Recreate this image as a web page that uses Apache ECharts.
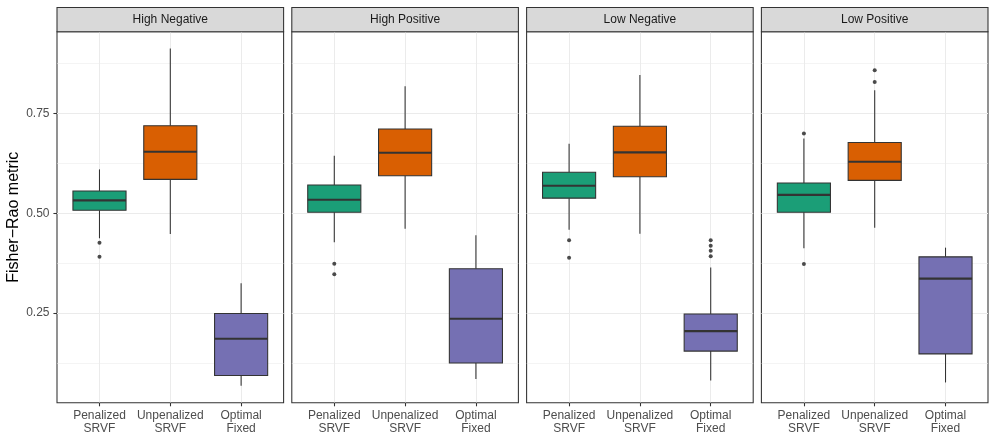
<!DOCTYPE html>
<html>
<head>
<meta charset="utf-8">
<script src="https://cdn.jsdelivr.net/npm/echarts@6/dist/echarts.min.js"></script>
<style>html,body{margin:0;padding:0;background:#fff}#c{width:997px;height:443px}</style>
</head>
<body>
<div id="c"></div>
<script>
// ---------- data ----------
const facets = ['High Negative', 'High Positive', 'Low Negative', 'Low Positive'];
const methods = ['Penalized\nSRVF', 'Unpenalized\nSRVF', 'Optimal\nFixed'];
const fills = ['#1B9E77', '#D95F02', '#7570B3'];
const yTicks = [0.25, 0.5, 0.75];
const yMinorTicks = [0.125, 0.375, 0.625, 0.875];
const yRange = [0.0258, 0.9547];
const yTitle = 'Fisher\u2212Rao metric';

// each row: [lower whisker, Q1, median, Q3, upper whisker]
const boxHighNegative = [
  [0.4375, 0.5075, 0.5325, 0.556, 0.610],
  [0.448, 0.585, 0.654, 0.719, 0.9125],
  [0.068, 0.094, 0.186, 0.249, 0.325]
];
const boxHighPositive = [
  [0.4275, 0.5025, 0.534, 0.571, 0.644],
  [0.4615, 0.594, 0.6515, 0.711, 0.818],
  [0.085, 0.125, 0.236, 0.361, 0.445]
];
const boxLowNegative = [
  [0.459, 0.538, 0.569, 0.603, 0.674],
  [0.449, 0.5915, 0.6525, 0.718, 0.846],
  [0.0815, 0.155, 0.205, 0.248, 0.364]
];
const boxLowPositive = [
  [0.4125, 0.5025, 0.546, 0.576, 0.6875],
  [0.464, 0.5825, 0.629, 0.6775, 0.808],
  [0.0765, 0.148, 0.3365, 0.391, 0.414]
];
const outHighNegative = [[0.426, 0.3915], [], []];
const outHighPositive = [[0.374, 0.3475], [], []];
const outLowNegative = [[0.4325, 0.389], [], [0.4325, 0.419, 0.406, 0.3925]];
const outLowPositive = [[0.700, 0.373], [0.858, 0.829], []];

const boxStats = [boxHighNegative, boxHighPositive, boxLowNegative, boxLowPositive];
const outliers = [outHighNegative, outHighPositive, outLowNegative, outLowPositive];

// ---------- layout ----------
const FONT = '"Liberation Sans", Arial, Helvetica, sans-serif';
const P = { left: 57, top: 31.7, width: 226.6, height: 371, step: 234.8, stripTop: 7.5 };
const LW = 1.07;

const grids = [], xAxes = [], yAxes = [], series = [], graphics = [];

facets.forEach((name, k) => {
  const left = P.left + k * P.step;
  grids.push({
    left: left, top: P.top, width: P.width, height: P.height,
    show: true, borderColor: '#333333', borderWidth: LW, backgroundColor: 'transparent', containLabel: false
  });
  xAxes.push({
    gridIndex: k, type: 'value', min: 0.4, max: 3.6,
    axisLine: { show: false },
    axisTick: { show: true, customValues: [1, 2, 3], length: 3.6, lineStyle: { color: '#333333', width: LW } },
    axisLabel: {
      customValues: [1, 2, 3], formatter: v => methods[Math.round(v) - 1],
      color: '#4D4D4D', fontSize: 12, fontFamily: FONT, lineHeight: 13.3, margin: 6
    },
    splitLine: { show: true, lineStyle: { color: '#EBEBEB', width: LW } }
  });
  yAxes.push({
    gridIndex: k, type: 'value', min: yRange[0], max: yRange[1],
    axisLine: { show: false },
    axisTick: { show: k === 0, customValues: yTicks, length: 3.6, lineStyle: { color: '#333333', width: LW } },
    axisLabel: {
      show: k === 0, customValues: yTicks, formatter: v => v.toFixed(2),
      color: '#4D4D4D', fontSize: 12, fontFamily: FONT, margin: 7.5
    },
    splitLine: { show: true, lineStyle: { color: '#EBEBEB', width: LW } },
    name: k === 0 ? yTitle : '', nameLocation: 'middle', nameGap: 35,
    nameTextStyle: { color: '#000000', fontSize: 16, fontFamily: FONT }
  });
  yAxes.push({
    gridIndex: k, type: 'value', min: yRange[0], max: yRange[1], position: 'left',
    axisLine: { show: false },
    axisTick: { show: false, customValues: yMinorTicks },
    axisLabel: { show: false, customValues: yMinorTicks },
    splitLine: { show: true, lineStyle: { color: '#EBEBEB', width: 0.53 } }
  });

  series.push({
    type: 'custom', xAxisIndex: k, yAxisIndex: 2 * k, z: 3,
    encode: { x: 0, y: [1, 2, 3, 4, 5] },
    data: boxStats[k].map((s, i) => [i + 1].concat(s)),
    renderItem: function (params, api) {
      const x = api.value(0);
      const lo = api.coord([x, api.value(1)]);
      const q1 = api.coord([x, api.value(2)]);
      const md = api.coord([x, api.value(3)]);
      const q3 = api.coord([x, api.value(4)]);
      const hi = api.coord([x, api.value(5)]);
      const w = api.size([0.75, 0])[0];
      const cx = q1[0];
      const ls = { stroke: '#333333', lineWidth: LW };
      return {
        type: 'group',
        children: [
          { type: 'line', shape: { x1: cx, y1: hi[1], x2: cx, y2: q3[1] }, style: ls },
          { type: 'line', shape: { x1: cx, y1: q1[1], x2: cx, y2: lo[1] }, style: ls },
          { type: 'rect', shape: { x: cx - w / 2, y: q3[1], width: w, height: q1[1] - q3[1] },
            style: { fill: fills[params.dataIndex], stroke: '#333333', lineWidth: LW } },
          { type: 'line', shape: { x1: cx - w / 2, y1: md[1], x2: cx + w / 2, y2: md[1] },
            style: { stroke: '#333333', lineWidth: 2.13 } }
        ]
      };
    }
  });

  const pts = [];
  outliers[k].forEach((arr, i) => arr.forEach(v => pts.push([i + 1, v])));
  series.push({
    type: 'scatter', xAxisIndex: k, yAxisIndex: 2 * k, z: 4,
    symbol: 'circle', symbolSize: 4,
    itemStyle: { color: '#1F1F1F' },
    data: pts
  });

  graphics.push({
    type: 'rect', z: 10,
    shape: { x: left, y: P.stripTop, width: P.width, height: P.top - P.stripTop },
    style: { fill: '#D9D9D9', stroke: '#333333', lineWidth: LW }
  });
  graphics.push({
    type: 'text', z: 11,
    x: left + P.width / 2, y: (P.stripTop + P.top) / 2,
    style: { text: name, fill: '#1A1A1A', font: '12px ' + FONT, align: 'center', verticalAlign: 'middle' }
  });
});

const chart = echarts.init(document.getElementById('c'), null, { renderer: 'canvas' });
chart.setOption({
  animation: false,
  backgroundColor: '#ffffff',
  grid: grids,
  xAxis: xAxes,
  yAxis: yAxes,
  series: series,
  graphic: graphics
});
</script>
</body>
</html>
